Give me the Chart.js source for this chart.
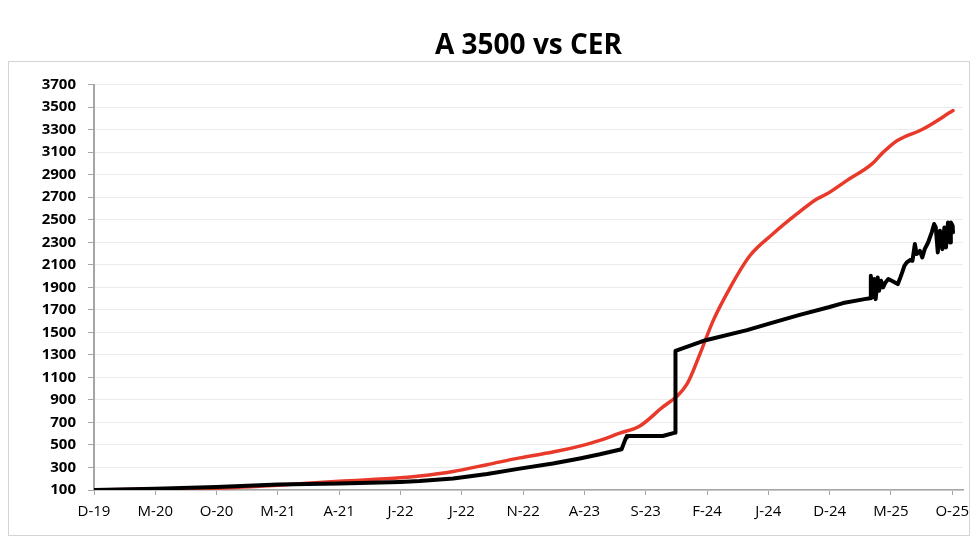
<!DOCTYPE html>
<html>
<head>
<meta charset="utf-8">
<script src="https://cdn.jsdelivr.net/npm/chart.js@4/dist/chart.umd.min.js"></script>
<style>
  html, body { margin: 0; padding: 0; background: #ffffff; }
  #wrap { position: relative; width: 980px; height: 555px; }
</style>
</head>
<body>
<div id="wrap"><canvas id="c"></canvas></div>
<script>
// ---- data ----
const chartTitle = 'A 3500 vs CER';
const tickLabels = ['D-19','M-20','O-20','M-21','A-21','J-22','J-22','N-22','A-23','S-23','F-24','J-24','D-24','M-25','O-25'];

const cerDates = ['2019-12-01','2020-05-01','2020-10-01','2021-03-01','2021-08-01','2022-01-01','2022-02-18','2022-05-10','2022-08-03','2022-10-23','2023-01-14','2023-03-20','2023-05-09','2023-06-28','2023-08-17','2023-10-06','2023-12-12','2024-01-14','2024-02-16','2024-03-28','2024-05-16','2024-07-12','2024-09-11','2024-10-30','2024-11-24','2025-01-13','2025-03-15','2025-04-12','2025-05-16','2025-07-20','2025-10-03'];
const cerValues = [100,108,116,142,178,208,224,265,325,385,437,490,540,605,669,817,1040,1309,1602,1898,2180,2373,2551,2684,2728,2847,2996,3098,3202,3306,3469];

const a3500Dates = ['2019-12-01','2020-05-01','2020-10-01','2021-03-01','2021-08-01','2022-01-01','2022-02-18','2022-05-10','2022-08-03','2022-10-23','2023-01-14','2023-03-20','2023-05-09','2023-07-02','2023-07-13','2023-07-15','2023-10-13','2023-11-13','2023-11-14','2024-01-28','2024-05-09','2024-07-01','2024-09-18','2024-12-01','2025-01-04','2025-02-27','2025-03-10','2025-03-12','2025-03-15','2025-03-20','2025-03-24','2025-03-29','2025-04-02','2025-04-07','2025-04-12','2025-04-18','2025-04-25','2025-05-03','2025-05-11','2025-05-18','2025-05-23','2025-05-29','2025-06-04','2025-06-10','2025-06-18','2025-06-24','2025-06-30','2025-07-04','2025-07-12','2025-07-18','2025-07-24','2025-08-02','2025-08-11','2025-08-17','2025-08-21','2025-08-26','2025-09-01','2025-09-07','2025-09-12','2025-09-16','2025-09-21','2025-09-26','2025-09-28','2025-10-02','2025-10-03'];
const a3500Values = [100,112,127,148,158,172,180,202,242,290,335,380,417,462,565,580,580,609,1336,1430,1520,1575,1655,1725,1760,1795,1802,2002,1809,1973,1795,1988,1869,1958,1899,1943,1973,1958,1943,1928,1973,2032,2091,2121,2142,2136,2284,2195,2224,2165,2239,2298,2388,2462,2432,2210,2402,2239,2432,2254,2476,2298,2476,2447,2388];

const yMin = 100, yMax = 3700, yStep = 200;
const monthsShown = 70.88;

// months elapsed since Dec-2019
function monthIndex(s) {
  const [y, m, d] = s.split('-').map(Number);
  return (y - 2019) * 12 + (m - 12) + (d - 1) / 30.4;
}
const toPoints = (dates, vals) => dates.map((d, i) => ({ x: monthIndex(d), y: vals[i] }));

const FONT = "'Open Sans', 'DejaVu Sans', sans-serif";

const framePlugin = {
  id: 'frame',
  beforeDraw(chart) {
    const ctx = chart.ctx;
    ctx.save();
    ctx.fillStyle = '#ffffff';
    ctx.fillRect(0, 0, chart.width, chart.height);
    ctx.strokeStyle = '#d4d4d4';
    ctx.lineWidth = 1;
    ctx.strokeRect(8.5, 61.5, 961, 474);
    ctx.restore();
  }
};

new Chart(document.getElementById('c'), {
  type: 'line',
  data: {
    datasets: [
      {
        label: 'A 3500',
        data: toPoints(a3500Dates, a3500Values),
        borderColor: '#000000',
        borderWidth: 4,
        pointRadius: 0,
        tension: 0,
        borderJoinStyle: 'round',
        borderCapStyle: 'round'
      },
      {
        label: 'CER',
        data: toPoints(cerDates, cerValues),
        borderColor: '#e8392b',
        borderWidth: 3.5,
        pointRadius: 0,
        cubicInterpolationMode: 'monotone',
        borderJoinStyle: 'round',
        borderCapStyle: 'round'
      }
    ]
  },
  options: {
    responsive: true,
    maintainAspectRatio: false,
    animation: false,
    layout: { padding: { top: 18, left: 8, right: 17, bottom: 26 } },
    plugins: {
      legend: { display: false },
      tooltip: { enabled: false },
      title: {
        display: true,
        text: chartTitle,
        fullSize: false,
        color: '#000000',
        font: { family: FONT, size: 28, weight: 'bold', lineHeight: 1.2 },
        padding: { top: 11, bottom: 22 }
      }
    },
    scales: {
      x: {
        type: 'linear',
        min: 0,
        max: monthsShown,
        afterBuildTicks(scale) {
          scale.ticks = tickLabels.map((_, i) => ({ value: i * 5 }));
        },
        ticks: {
          autoSkip: false,
          maxRotation: 0,
          padding: 8,
          color: '#000000',
          font: { family: FONT, size: 15 },
          callback: (v) => tickLabels[Math.round(v / 5)]
        },
        grid: {
          drawOnChartArea: false,
          drawTicks: true,
          tickLength: 5,
          color: '#a6a6a6',
          lineWidth: 1
        },
        border: { display: true, color: '#a6a6a6', width: 1.5 }
      },
      y: {
        min: yMin,
        max: yMax,
        afterFit(scale) { scale.width = 86; },
        ticks: {
          stepSize: yStep,
          padding: 12,
          color: '#000000',
          font: { family: FONT, size: 15, weight: 'bold' },
          callback: (v) => String(v)
        },
        grid: {
          color: '#ebebeb',
          tickColor: '#a6a6a6',
          tickLength: 6,
          lineWidth: 1
        },
        border: { display: true, color: '#a6a6a6', width: 2 }
      }
    }
  },
  plugins: [framePlugin]
});
</script>
</body>
</html>
